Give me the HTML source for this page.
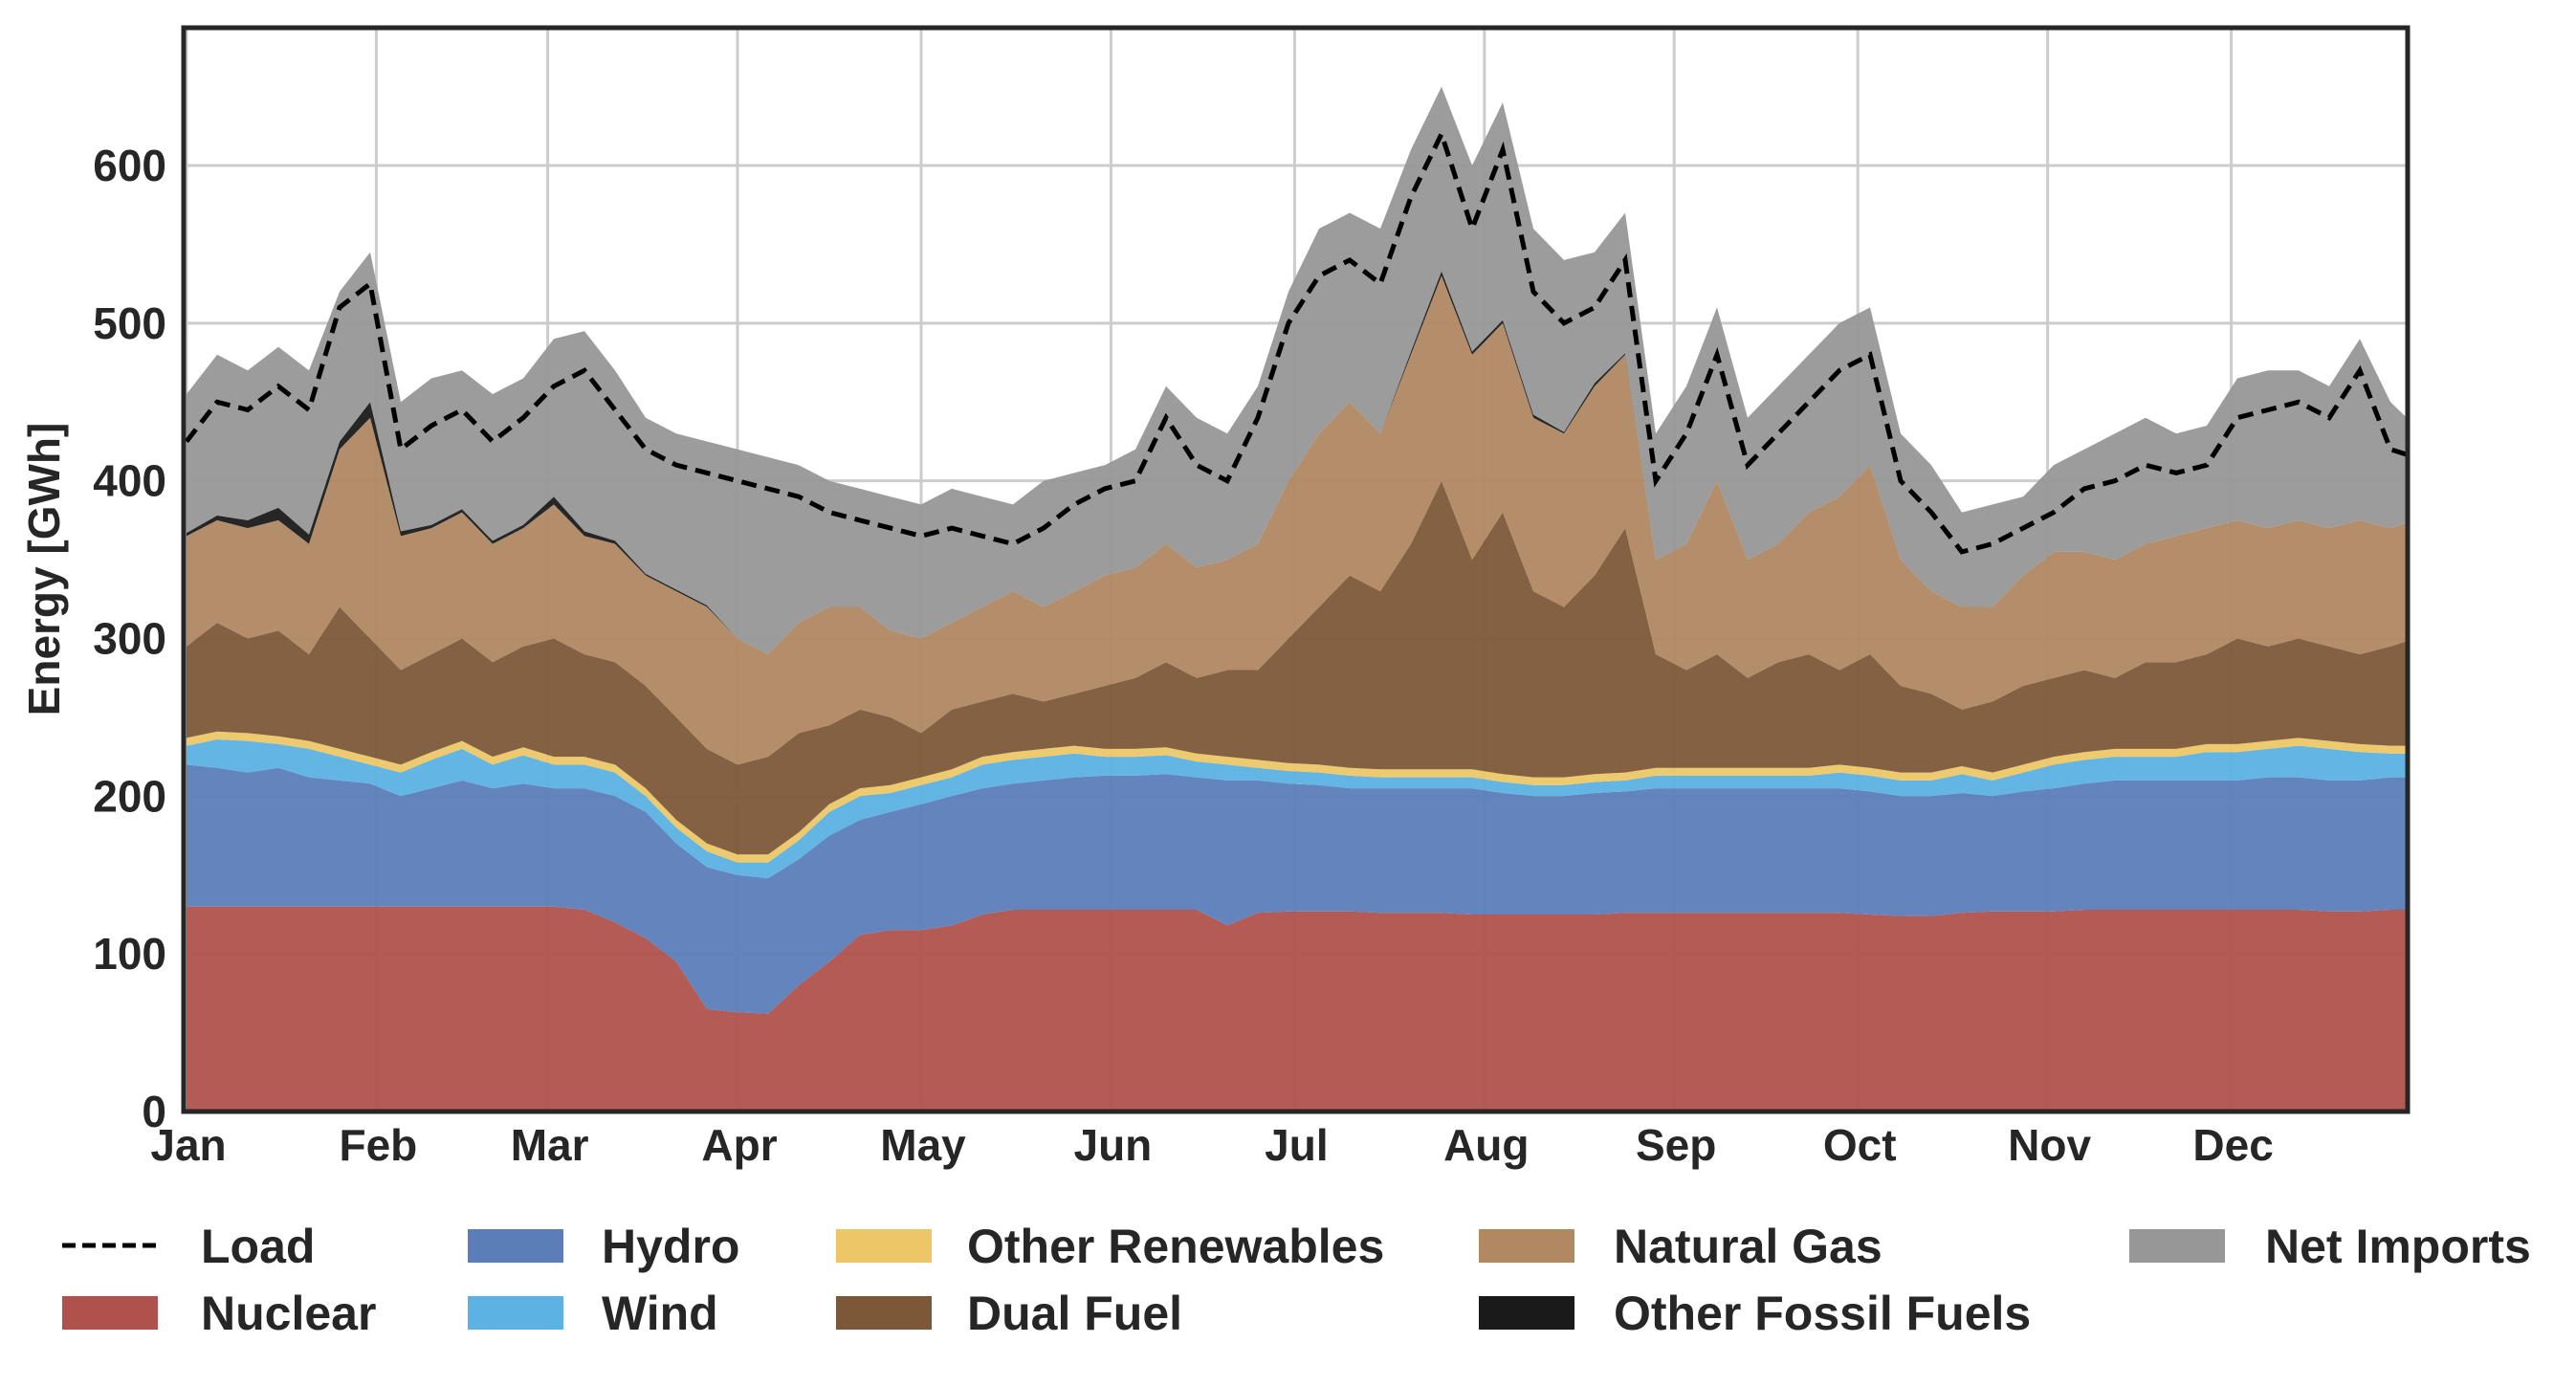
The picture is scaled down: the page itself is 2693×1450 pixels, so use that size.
<!DOCTYPE html>
<html><head><meta charset="utf-8"><style>
html,body{margin:0;padding:0;background:#fff;}
svg{display:block;font-family:"Liberation Sans",Arial,sans-serif;font-weight:bold;}
</style></head><body>
<svg id="chart" width="2693" height="1450" viewBox="0 0 2693 1450" xmlns="http://www.w3.org/2000/svg">
<defs><clipPath id="plotclip"><rect x="192" y="29" width="2325" height="1133"/></clipPath></defs>
<g id="grid"></g>
<g id="areas" clip-path="url(#plotclip)"></g>
<g id="loadg" clip-path="url(#plotclip)"></g>
<rect x="192" y="29" width="2325" height="1133" fill="none" stroke="#262626" stroke-width="5"/>
<g id="yticks" font-size="46" fill="#262626" text-anchor="end"></g>
<g id="xticks" font-size="46" fill="#262626" text-anchor="middle"></g>
<text transform="translate(62,595) rotate(-90)" text-anchor="middle" font-size="46" fill="#262626">Energy [GWh]</text>
<g id="legend" font-size="50" fill="#262626"></g>
</svg>
<script>
const days = [0,5,10,15,20,25,30,35,40,45,50,55,60,65,70,75,80,85,90,95,100,105,110,115,120,125,130,135,140,145,150,155,160,165,170,175,180,185,190,195,200,205,210,215,220,225,230,235,240,245,250,255,260,265,270,275,280,285,290,295,300,305,310,315,320,325,330,335,340,345,350,355,360,364];
const nuclear = [130,130,130,130,130,130,130,130,130,130,130,130,130,128,120,110,95,65,63,62,80,95,112,115,115,118,125,128,128,128,128,128,128,128,118,126,127,127,127,126,126,126,125,125,125,125,125,126,126,126,126,126,126,126,126,125,124,124,126,127,127,127,128,128,128,128,128,128,128,128,127,127,128,128];
const hydro = [90,88,85,88,82,80,78,70,75,80,75,78,75,77,80,80,75,90,87,86,80,80,73,75,80,82,80,80,82,84,85,85,86,84,92,84,81,80,78,79,79,79,80,77,75,75,77,77,79,79,79,79,79,79,79,78,76,76,76,73,76,78,80,82,82,82,82,82,84,84,83,83,84,84];
const wind = [12,18,20,15,18,15,12,15,18,20,15,18,15,15,15,10,10,10,8,10,12,15,15,12,12,12,15,15,15,15,12,12,12,10,10,8,8,8,8,7,7,7,7,7,7,7,7,7,8,8,8,8,8,8,10,10,10,10,12,10,12,15,15,15,15,15,18,18,18,20,20,18,15,15];
const otherRenewables = [5,5,5,5,5,5,5,5,5,5,5,5,5,5,5,5,5,5,5,5,5,5,5,5,5,5,5,5,5,5,5,5,5,5,5,5,5,5,5,5,5,5,5,5,5,5,5,5,5,5,5,5,5,5,5,5,5,5,5,5,5,5,5,5,5,5,5,5,5,5,5,5,5,5];
const dualFuel = [58,69,60,67,55,90,75,60,62,65,60,64,75,65,65,65,65,60,57,62,63,50,50,43,28,38,35,37,30,33,40,45,54,48,55,57,79,100,122,113,143,183,133,166,118,108,126,155,72,62,72,57,67,72,60,72,55,50,36,45,50,50,52,45,55,55,57,67,60,63,60,57,63,68];
const naturalGas = [70,65,70,70,70,100,140,85,80,80,75,75,85,75,75,70,80,90,80,65,70,75,65,55,60,55,60,65,60,65,70,70,75,70,70,80,100,110,110,100,120,130,130,120,110,110,120,110,60,80,110,75,75,90,110,120,80,65,65,60,70,80,75,75,75,80,80,75,75,75,75,85,75,75];
const otherFossil = [2,3,5,8,6,5,10,3,2,2,2,2,5,3,2,1,1,1,0,0,0,0,0,0,0,0,0,0,0,0,0,0,0,0,0,0,0,0,0,0,2,3,2,2,2,1,2,1,0,0,0,0,0,0,0,0,0,0,0,0,0,0,0,0,0,0,0,0,0,0,0,0,0,0];
const netImports = [88,102,95,102,104,95,95,82,93,88,93,93,100,127,108,99,99,104,120,125,100,80,75,85,85,85,70,55,80,75,70,75,100,95,80,100,120,130,120,130,128,117,118,138,118,109,83,89,80,100,110,90,100,100,110,100,80,80,60,65,50,55,65,80,80,65,65,90,100,95,90,115,80,60];
const load = [425,450,445,460,445,510,525,420,435,445,425,440,460,470,445,420,410,405,400,395,390,380,375,370,365,370,365,360,370,385,395,400,440,410,400,440,500,530,540,525,580,620,560,610,520,500,510,540,400,430,480,410,430,450,470,480,400,380,355,360,370,380,395,400,410,405,410,440,445,450,440,470,420,415];
const monthLabels = ["Jan","Feb","Mar","Apr","May","Jun","Jul","Aug","Sep","Oct","Nov","Dec"];
const monthStarts = [0,31,59,90,120,151,181,212,243,273,304,334];
const yTicks = [0,100,200,300,400,500,600];

const NS="http://www.w3.org/2000/svg";
function xS(d){return 195+d*6.40;}
function yS(v){return 1162-v*1.6483;}
function mk(tag,attrs,parent){const e=document.createElementNS(NS,tag);for(const k in attrs)e.setAttribute(k,attrs[k]);parent.appendChild(e);return e;}

const grid=document.getElementById('grid');
monthStarts.forEach((d,i)=>{
  const l=mk('line',{x1:xS(d),x2:xS(d),y1:29,y2:1162,stroke:'#cccccc','stroke-width':3},grid);
  
  
  const t=mk('text',{x:xS(d)+2,y:1213},document.getElementById('xticks'));
  t.textContent=monthLabels[i];
  
  
});
yTicks.forEach(v=>{
  const l=mk('line',{x1:192,x2:2517,y1:yS(v),y2:yS(v),stroke:'#cccccc','stroke-width':3},grid);
  
  
  const t=mk('text',{x:174,y:yS(v)+16},document.getElementById('yticks'));
  t.textContent=String(v);
  
  
});

const series=[
 {name:'Nuclear',vals:nuclear,color:'#b0524c',id:'nuclear'},
 {name:'Hydro',vals:hydro,color:'#5b7db8',id:'hydro'},
 {name:'Wind',vals:wind,color:'#5bb2e3',id:'wind'},
 {name:'Other Renewables',vals:otherRenewables,color:'#edc767',id:'other-renewables'},
 {name:'Dual Fuel',vals:dualFuel,color:'#7d5838',id:'dual-fuel'},
 {name:'Natural Gas',vals:naturalGas,color:'#b08862',id:'natural-gas'},
 {name:'Other Fossil Fuels',vals:otherFossil,color:'#1a1a1a',id:'other-fossil-fuels'},
 {name:'Net Imports',vals:netImports,color:'#979797',id:'net-imports'}
];
const areas=document.getElementById('areas');
let base=days.map(()=>0);
series.forEach(s=>{
  const top=base.map((b,i)=>b+s.vals[i]);
  let d='M'+days.map((dd,i)=>xS(dd).toFixed(1)+','+yS(top[i]).toFixed(1)).join('L');
  for(let i=days.length-1;i>=0;i--) d+='L'+xS(days[i]).toFixed(1)+','+yS(base[i]).toFixed(1);
  d+='Z';
  const p=mk('path',{d:d,fill:s.color,'fill-opacity':0.95},areas);
  
  
  base=top;
});
const lp=mk('polyline',{points:days.map((dd,i)=>xS(dd).toFixed(1)+','+yS(load[i]).toFixed(1)).join(' '),fill:'none',stroke:'#000','stroke-width':5,'stroke-dasharray':'16 9'},document.getElementById('loadg'));



const legend=document.getElementById('legend');
const legItems=[
 ['Load',null,65,210,0],['Nuclear','#b0524c',65,210,1],
 ['Hydro','#5b7db8',489,629,0],['Wind','#5bb2e3',489,629,1],
 ['Other Renewables','#edc767',874,1011,0],['Dual Fuel','#7d5838',874,1011,1],
 ['Natural Gas','#b08862',1546,1687,0],['Other Fossil Fuels','#1a1a1a',1546,1687,1],
 ['Net Imports','#979797',2226,2368,0]
];
legItems.forEach(it=>{
  const cy=it[4]===0?1302:1372;
  const g=mk('g',{},legend);
  
  
  if(it[1]===null){
    mk('line',{x1:it[2],x2:it[2]+100,y1:cy,y2:cy,stroke:'#000','stroke-width':5,'stroke-dasharray':'14 7'},g);
  } else {
    mk('rect',{x:it[2],y:cy-17,width:100,height:35,fill:it[1]},g);
  }
  const t=mk('text',{x:it[3],y:cy+18},g);
  t.textContent=it[0];
});
</script>
</body></html>
